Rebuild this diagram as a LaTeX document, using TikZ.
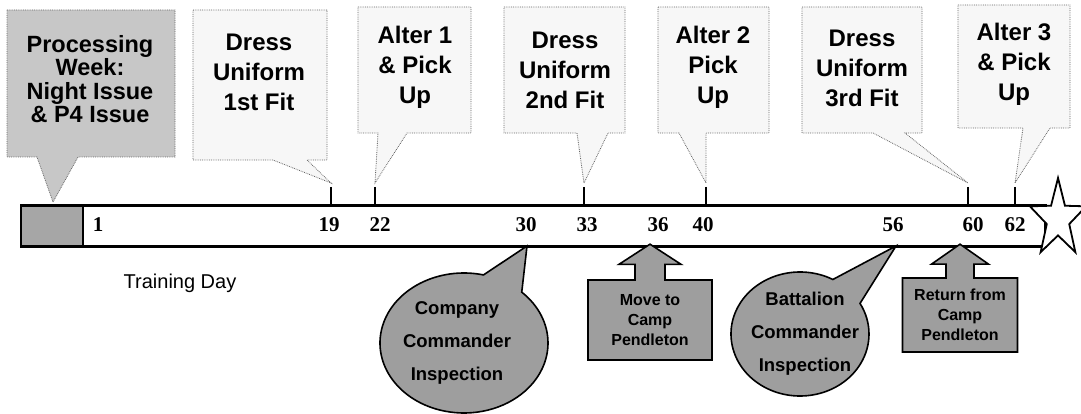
\documentclass[tikz,border=0pt]{standalone}
\usepackage{fontspec}
\setmainfont{Liberation Sans}
\newfontfamily\daysfont{Liberation Serif}
\usetikzlibrary{shapes,arrows,positioning}

\begin{document}
\begin{tikzpicture}[x=1pt,y=-1pt,
    tagline/.style={densely dotted,line width=.8pt,draw=black!60,fill=black!3},
    tagtext/.style={font=\fontsize{24}{30}\selectfont\bfseries,align=center,inner sep=0pt},
    eventbox/.style={draw=black,line width=1.6pt,fill=black!38},
    eventtext/.style={font=\fontsize{18.5}{33}\selectfont\bfseries,align=center,inner sep=0pt},
    movetext/.style={font=\fontsize{16}{20}\selectfont\bfseries,align=center,inner sep=0pt},
    daynum/.style={font=\daysfont\fontsize{21}{21}\selectfont\bfseries,inner sep=0pt}]
    \useasboundingbox (0,0) rectangle (1081,414);

    % time line
    \filldraw[line width=3pt,fill=white] (21,206) rectangle (1045,246);
    \node[draw,line width=2.5pt,fill=black!35,minimum width=62,minimum height=40,inner sep=0pt] (proc) at (52,226) {};
    \foreach \d/\x in {19/331,22/375,33/584,40/706,60/968,62/1015}
    {
        \coordinate (top\d) at (\x,187);
        \coordinate (mark\d) at (\x,206);
        \coordinate (tip\d) at (\x,183);
        \draw[line width=2.5pt] (top\d) -- (mark\d);
    }
    \foreach \d/\x in {1/98,19/329,22/380,30/526,33/587,36/658,40/703,56/893,60/973,62/1015}
        \node[daynum] (day\d) at (\x,225) {\d};
    \node[star,star points=5,star point ratio=2.5,minimum size=82,inner sep=0pt,xscale=.72,draw,line width=1.8pt,fill=white] (goal) at (1058,219) {};
    \node[font=\fontsize{20}{24}\selectfont] (axis) at (180,283) {Training Day};

    % uniform events
    \coordinate (tipP) at (53,202);
    \filldraw[tagline,fill=black!22] (7,10) -- (175,10) -- (175,157) -- (78,157) -- (tipP) -- (37,157) -- (7,157) -- cycle;
    \node[tagtext,font=\fontsize{23.5}{23.5}\selectfont\bfseries] (proctext) at (90,79) {Processing\\Week:\\Night Issue\\\& P4 Issue};

    \filldraw[tagline] (193,10) -- (327,10) -- (327,160) -- (307,160) -- (tip19) -- (273,160) -- (193,160) -- cycle;
    \node[tagtext] (fit1) at (259,72) {Dress\\Uniform\\1st Fit};

    \filldraw[tagline] (358,7) -- (471,7) -- (471,133) -- (407,133) -- (tip22) -- (378,133) -- (358,133) -- cycle;
    \node[tagtext] (alt1) at (415,67) {Alter 1\\\& Pick\\Up};

    \filldraw[tagline] (504,7) -- (625,7) -- (625,133) -- (608,133) -- (tip33) -- (577,133) -- (504,133) -- cycle;
    \node[tagtext] (fit2) at (565,70) {Dress\\Uniform\\2nd Fit};

    \filldraw[tagline] (658,7) -- (769,7) -- (769,133) -- (706,133) -- (tip40) -- (679,133) -- (658,133) -- cycle;
    \node[tagtext] (alt2) at (713,67) {Alter 2\\Pick\\Up};

    \filldraw[tagline] (802,7) -- (922,7) -- (922,133) -- (905,133) -- (tip60) -- (873,133) -- (802,133) -- cycle;
    \node[tagtext] (fit3) at (862,68) {Dress\\Uniform\\3rd Fit};

    \filldraw[tagline] (958,5) -- (1070,5) -- (1070,128) -- (1050,128) -- (tip62) -- (1023,128) -- (958,128) -- cycle;
    \node[tagtext] (alt3) at (1014,64) {Alter 3\\\& Pick\\Up};

    % training events
    \coordinate (low30) at (527,246);
    \coordinate (low36) at (649,246);
    \coordinate (low56) at (896,246);
    \coordinate (low60) at (960,246);

    \node[ellipse callout,eventbox,minimum width=168,minimum height=140,callout absolute pointer={(low30)},callout pointer arc=30] (coinsp) at (464,343) {};
    \node[eventtext,xshift=-7] (cotext) at (coinsp) {Company\\Commander\\Inspection};

    \node[ellipse callout,eventbox,minimum width=138,minimum height=124,callout absolute pointer={(low56)},callout pointer arc=32] (bninsp) at (800,334) {};
    \node[eventtext,xshift=5] (bntext) at (bninsp) {Battalion\\Commander\\Inspection};

    \node[arrow box,eventbox,movetext,minimum width=124,minimum height=80,arrow box arrows={north:35pt,south:-1pt,east:-1pt,west:-1pt},arrow box shaft width=30,arrow box head extend=16,arrow box tip angle=114] (move) at (650,320) {Move to\\Camp\\Pendleton};

    \node[arrow box,eventbox,movetext,minimum width=115,minimum height=74,arrow box arrows={north:33pt,south:-1pt,east:-1pt,west:-1pt},arrow box shaft width=28,arrow box head extend=14.5,arrow box tip angle=110] (back) at (960,315) {Return from\\Camp\\Pendleton};
\end{tikzpicture}
\end{document}
